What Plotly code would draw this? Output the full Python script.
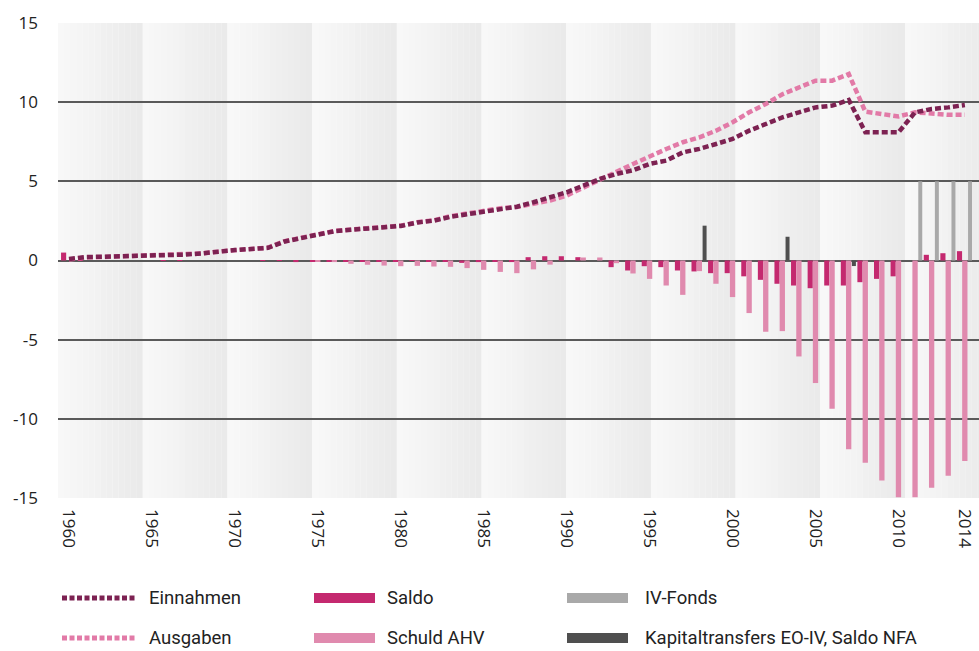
import plotly.graph_objects as go

# ---------------- data (billions CHF) ----------------
years = list(range(1960, 2015))

einnahmen = [0.10, 0.22, 0.24, 0.26, 0.29, 0.32, 0.33, 0.37, 0.45, 0.57,
             0.66, 0.73, 0.80, 1.20, 1.42, 1.65, 1.85, 1.94, 2.00, 2.08,
             2.18, 2.40, 2.52, 2.76, 2.93, 3.07, 3.24, 3.40, 3.68, 4.00,
             4.31, 4.73, 5.15, 5.47, 5.70, 6.10, 6.31, 6.83, 7.05, 7.36,
             7.68, 8.20, 8.62, 9.04, 9.36, 9.67, 9.78, 10.14, 8.10, 8.10,
             8.10, 9.36, 9.57, 9.67, 9.82]

ausgaben = [0.06, 0.18, 0.22, 0.25, 0.28, 0.31, 0.33, 0.37, 0.45, 0.56,
            0.65, 0.73, 0.82, 1.22, 1.44, 1.68, 1.87, 1.96, 2.02, 2.10,
            2.20, 2.42, 2.54, 2.80, 2.98, 3.12, 3.30, 3.38, 3.58, 3.79,
            4.10, 4.62, 5.15, 5.60, 6.10, 6.60, 7.04, 7.47, 7.78, 8.20,
            8.73, 9.36, 9.89, 10.50, 10.93, 11.36, 11.36, 11.78, 9.40, 9.25,
            9.10, 9.36, 9.25, 9.20, 9.20]

saldo = [0.50, 0.02, 0.00, 0.00, 0.00, 0.00, -0.03, -0.03, 0.00, 0.00,
         0.00, 0.00, -0.02, -0.03, -0.10, -0.06, -0.06, -0.06, -0.05, -0.04,
         -0.05, -0.03, -0.05, -0.05, -0.15, -0.10, -0.08, -0.10, 0.21, 0.27,
         0.27, 0.21, 0.00, -0.42, -0.63, -0.36, -0.42, -0.63, -0.69, -0.80,
         -0.80, -1.00, -1.22, -1.47, -1.58, -1.75, -1.58, -1.58, -1.37, -1.16,
         -1.00, 0.00, 0.36, 0.46, 0.59]

schuld_ahv = [0.00, 0.00, 0.00, 0.00, 0.00, 0.00, 0.00, 0.00, 0.00, 0.00,
              0.00, 0.00, 0.00, 0.00, 0.00, -0.05, -0.10, -0.21, -0.27, -0.32,
              -0.36, -0.34, -0.38, -0.40, -0.48, -0.59, -0.72, -0.80, -0.56, -0.26,
              0.00, 0.19, 0.19, -0.17, -0.82, -1.16, -1.58, -2.17, -0.67, -1.47,
              -2.31, -3.32, -4.50, -4.46, -6.06, -7.74, -9.36, -11.92, -12.77, -13.90,
              -14.95, -14.95, -14.36, -13.60, -12.66]

iv_fonds_years = [2011, 2012, 2013, 2014]
iv_fonds = [5.0, 5.0, 5.0, 5.0]

kapital_years = [1998, 2003, 2007]
kapitaltransfers = [2.2, 1.5, -0.35]

tick_years = [1960, 1965, 1970, 1975, 1980, 1985, 1990, 1995, 2000, 2005, 2010, 2014]
tick_labels = [str(y) for y in tick_years]
y_ticks = [-15, -10, -5, 0, 5, 10, 15]
y_tick_labels = [str(v) for v in y_ticks]

names = ["Einnahmen", "Ausgaben", "Saldo", "Schuld AHV", "IV-Fonds",
         "Kapitaltransfers EO-IV, Saldo NFA"]

# ---------------- styles ----------------
C_EIN = "#7d2252"
C_AUS = "#e27aa7"
C_SALDO = "#c4296f"
C_SCHULD = "#e08aae"
C_FONDS = "#a9a9a9"
C_KAP = "#4f4f4f"
TICK_FONT = dict(family="Open Sans, Noto Sans, sans-serif", size=17, color="#222222")
LEG_FONT = dict(family="Roboto, sans-serif", size=18.5, color="#222222")

W, H = 979, 651
L, R, T, B = 58, 0, 23, 153
PW, PH = W - L - R, H - T - B


def pxx(x):
    return (x - L) / PW


def pxy(y):
    return (H - B - y) / PH


fig = go.Figure()

# bars
fig.add_trace(go.Bar(x=years, y=saldo, name=names[2], marker_color=C_SALDO,
                     marker_line_width=0, offset=-0.48, width=0.31))
fig.add_trace(go.Bar(x=years, y=schuld_ahv, name=names[3], marker_color=C_SCHULD,
                     marker_line_width=0, offset=-0.165, width=0.32))
fig.add_trace(go.Bar(x=iv_fonds_years, y=iv_fonds, name=names[4], marker_color=C_FONDS,
                     marker_line_width=0, offset=0.19, width=0.24))
fig.add_trace(go.Bar(x=kapital_years, y=kapitaltransfers, name=names[5], marker_color=C_KAP,
                     marker_line_width=0, offset=0.19, width=0.24))

# lines
fig.add_trace(go.Scatter(x=years, y=ausgaben, name=names[1], mode="lines",
                         line=dict(color=C_AUS, width=4.5, dash="6px,3px")))
fig.add_trace(go.Scatter(x=years, y=einnahmen, name=names[0], mode="lines",
                         line=dict(color=C_EIN, width=4.5, dash="6px,3px")))

# background bands (5-year stripes with light-to-dark gradient)
shapes = []
band_start = 1959.337
band_w = 5.105
n_strips = 14
c0, c1 = 248, 234
for b in range(11):
    x0 = band_start + b * band_w
    for s in range(n_strips):
        f = s / (n_strips - 1)
        g = round(c0 + (c1 - c0) * f)
        shapes.append(dict(type="rect", xref="x", yref="paper",
                           x0=x0 + s * band_w / n_strips,
                           x1=x0 + (s + 1) * band_w / n_strips + 0.01,
                           y0=0, y1=1, line=dict(width=0),
                           fillcolor=f"rgb({g},{g},{g})", layer="below"))

# manual legend
rows = [598, 638]
cols = [(62, 135, 147), (314, 375, 385), (567, 628, 643)]
legend_items = [
    (0, 0, "line", C_EIN, names[0]),
    (1, 0, "line", C_AUS, names[1]),
    (0, 1, "rect", C_SALDO, names[2]),
    (1, 1, "rect", C_SCHULD, names[3]),
    (0, 2, "rect", C_FONDS, names[4]),
    (1, 2, "rect", C_KAP, names[5]),
]
annotations = []
for r, c, kind, col, label in legend_items:
    x0, x1, xt = cols[c]
    yc = rows[r]
    if kind == "line":
        shapes.append(dict(type="line", xref="paper", yref="paper",
                           x0=pxx(x0), x1=pxx(x1), y0=pxy(yc), y1=pxy(yc),
                           line=dict(color=col, width=5, dash="5px,2.5px")))
    else:
        shapes.append(dict(type="rect", xref="paper", yref="paper",
                           x0=pxx(x0), x1=pxx(x1), y0=pxy(yc - 5), y1=pxy(yc + 5),
                           line=dict(width=0), fillcolor=col))
    annotations.append(dict(text=label, xref="paper", yref="paper",
                            x=pxx(xt), y=pxy(yc), xanchor="left", yanchor="middle",
                            showarrow=False, font=LEG_FONT))

fig.update_layout(
    width=W, height=H,
    margin=dict(l=L, r=R, t=T, b=B, pad=0),
    paper_bgcolor="white",
    plot_bgcolor="rgba(0,0,0,0)",
    barmode="overlay",
    showlegend=False,
    shapes=shapes,
    annotations=annotations,
    xaxis=dict(range=[1959.337, 2014.85], tickmode="array", tickvals=tick_years,
               ticktext=tick_labels, tickangle=90, showgrid=False, zeroline=False,
               showline=False, ticks="", tickfont=TICK_FONT, ticklabelstandoff=10),
    yaxis=dict(range=[-15, 15], tickmode="array", tickvals=y_ticks, ticktext=y_tick_labels,
               showgrid=True, gridcolor="#5a5a5a", gridwidth=1.5,
               zeroline=True, zerolinecolor="#5a5a5a", zerolinewidth=1.5,
               showline=False, ticks="", tickfont=TICK_FONT, ticklabelstandoff=19),
)

fig.write_html("out.html", config={"displayModeBar": False},
               post_script="document.body.style.margin='0';document.body.style.overflow='hidden';")
